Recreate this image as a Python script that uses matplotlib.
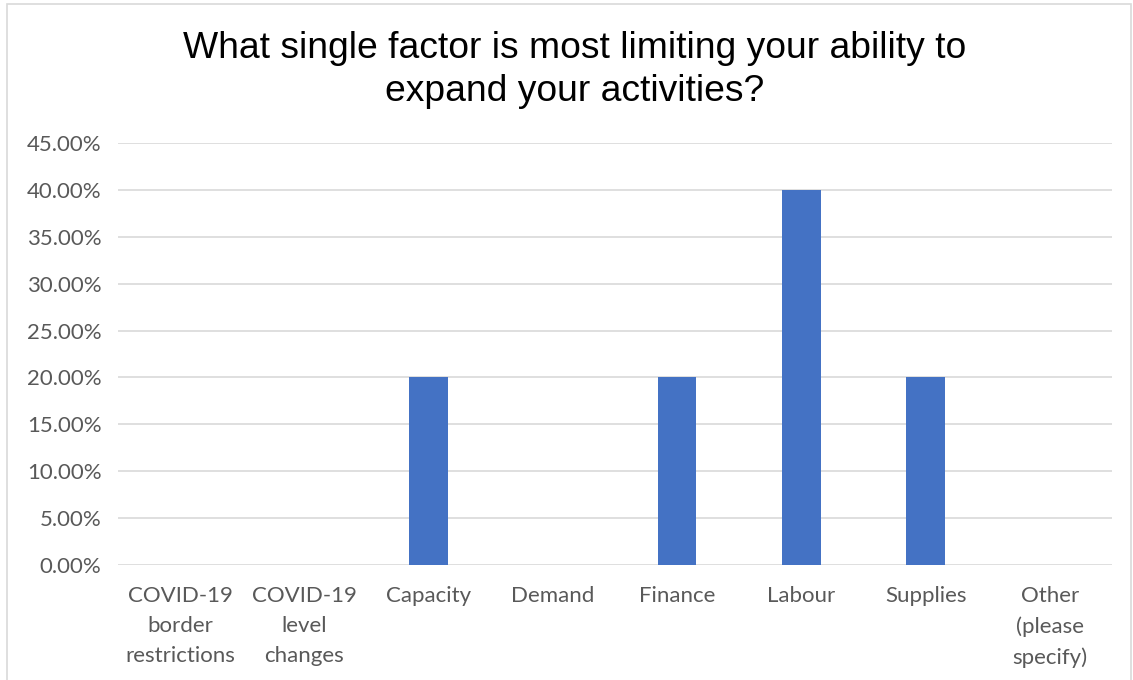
import matplotlib
matplotlib.use("Agg")
import matplotlib.pyplot as plt
from matplotlib.ticker import FuncFormatter, MultipleLocator
from matplotlib.patches import Rectangle

categories = ["COVID-19\nborder\nrestrictions", "COVID-19\nlevel\nchanges", "Capacity", "Demand",
              "Finance", "Labour", "Supplies", "Other\n(please\nspecify)"]
values = [0.0, 0.0, 0.20, 0.0, 0.20, 0.40, 0.20, 0.0]
title = "What single factor is most limiting your ability to\nexpand your activities?"

W, H = 1133, 680
fig = plt.figure(figsize=(W / 100, H / 100), dpi=100)
fig.patch.set_facecolor("white")
fig.add_artist(Rectangle((7 / W, -0.1), (W - 9) / W, 1.1 - 4 / H, transform=fig.transFigure,
                         fill=False, edgecolor="#d9d9d9", linewidth=1.2))

left, right, top, bottom = 118, 1112, 143, 565
ax = fig.add_axes([left / W, 1 - bottom / H, (right - left) / W, (bottom - top) / H])

x = list(range(len(categories)))
ax.bar(x, values, width=0.31, color="#4472C4", zorder=3)
ax.set_xlim(-0.5, len(categories) - 0.5)
ax.set_ylim(0, 0.45)
ax.yaxis.set_major_locator(MultipleLocator(0.05))
ax.yaxis.set_major_formatter(FuncFormatter(lambda v, p: f"{v*100:.2f}%"))
ax.grid(axis="y", color="#d9d9d9", linewidth=1.2, zorder=0)
for s in ax.spines.values():
    s.set_visible(False)
ax.tick_params(axis="both", length=0, colors="#595959", labelsize=16)
ax.tick_params(axis="y", pad=12)
ax.tick_params(axis="x", pad=15)
ax.set_xticks(x)
ax.set_xticklabels(categories, linespacing=1.62)
for lbl in ax.get_xticklabels() + ax.get_yticklabels():
    lbl.set_fontfamily("Lato")
    lbl.set_color("#595959")

fig.text(575 / W, 1 - 70 / H, title, ha="center", va="center", fontsize=26.8,
         family="Liberation Sans", color="black", linespacing=1.33)

fig.savefig("out.png", dpi=100)
